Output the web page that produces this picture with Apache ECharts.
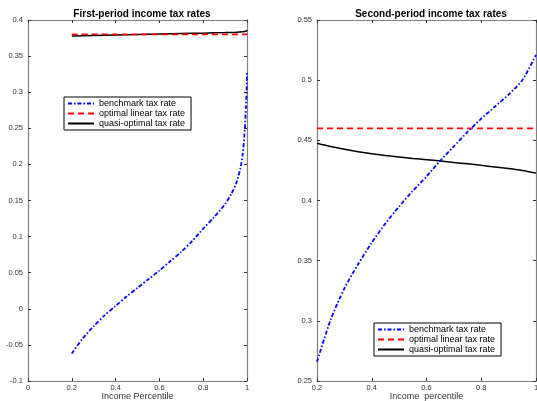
<!DOCTYPE html>
<html>
<head>
<meta charset="utf-8">
<title>Income tax rates</title>
<script src="https://cdn.jsdelivr.net/npm/echarts@6/dist/echarts.min.js"></script>
<style>
  html, body { margin: 0; padding: 0; background: #fff; }
  #chart { width: 537px; height: 401px; }
</style>
</head>
<body>
<div id="chart"></div>
<script>
// Series names
const seriesNames = ['benchmark tax rate', 'optimal linear tax rate', 'quasi-optimal tax rate'];

// First period: benchmark tax rate by income percentile
const p1Bench = [0.2, 0.25, 0.3, 0.35, 0.4, 0.45, 0.5, 0.55, 0.6, 0.65, 0.7, 0.75, 0.8, 0.85, 0.9, 0.93, 0.95, 0.97, 0.98, 0.99, 0.995, 0.998, 1.0];
const bench1  = [-0.062, -0.041, -0.024, -0.009, 0.004, 0.017, 0.029, 0.041, 0.053, 0.066, 0.079, 0.094, 0.111, 0.127, 0.145, 0.160, 0.173, 0.195, 0.213, 0.248, 0.280, 0.300, 0.328];

// First period: optimal linear tax rate
const p1Linear = [0.2, 1.0];
const linear1  = [0.38, 0.38];

// First period: quasi-optimal tax rate
const p1Quasi = [0.2, 0.3, 0.4, 0.5, 0.6, 0.7, 0.8, 0.9, 0.95, 0.98, 0.995, 1.0];
const quasi1  = [0.3778, 0.3785, 0.3792, 0.3798, 0.3805, 0.3812, 0.3818, 0.3826, 0.3831, 0.3837, 0.3845, 0.386];

// Second period: all series share the same percentile grid
const p2 = [0.2, 0.25, 0.3, 0.35, 0.4, 0.45, 0.5, 0.55, 0.6, 0.65, 0.7, 0.75, 0.8, 0.85, 0.9, 0.95, 1.0];
const bench2  = [0.266, 0.301, 0.327, 0.347, 0.365, 0.381, 0.395, 0.408, 0.420, 0.433, 0.445, 0.457, 0.468, 0.478, 0.488, 0.500, 0.521];
const linear2 = [0.46, 0.46, 0.46, 0.46, 0.46, 0.46, 0.46, 0.46, 0.46, 0.46, 0.46, 0.46, 0.46, 0.46, 0.46, 0.46, 0.46];
const quasi2  = [0.4475, 0.4448, 0.4425, 0.4405, 0.4388, 0.4374, 0.4362, 0.4350, 0.4339, 0.4328, 0.4316, 0.4305, 0.4292, 0.4279, 0.4265, 0.4249, 0.4228];

// Panel titles and axis names
const titles = ['First-period income tax rates', 'Second-period income tax rates'];
const xNames = ['Income Percentile', 'Income  percentile'];

// Axis ranges
const x1Range = { min: 0, max: 1, interval: 0.2 };
const y1Range = { min: -0.1, max: 0.4, interval: 0.05 };
const x2Range = { min: 0.2, max: 1, interval: 0.2 };
const y2Range = { min: 0.25, max: 0.55, interval: 0.05 };

const FONT = 'Liberation Sans, Arial, Helvetica, sans-serif';
const AXIS_COLOR = '#808080';

const pairs = (xs, ys) => xs.map((x, i) => [x, ys[i]]);

// Fixed plot boxes; labels are allowed to reach the canvas edge
const grids = [
  { left: 28, top: 20, width: 219, height: 361, outerBoundsMode: 'none', containLabel: false },
  { left: 317, top: 20, width: 219, height: 361, outerBoundsMode: 'none', containLabel: false }
];

function fmt(v) {
  return String(+v.toFixed(4));
}

function xAxisPair(gridIndex, range, name) {
  const common = {
    type: 'value', gridIndex: gridIndex,
    min: range.min, max: range.max, interval: range.interval,
    splitLine: { show: false },
    axisLine: { show: true, onZero: false, lineStyle: { color: AXIS_COLOR, width: 1.2 } },
    axisTick: { show: true, inside: true, length: 3, lineStyle: { color: '#333', width: 1 } }
  };
  return [
    Object.assign({}, common, {
      position: 'bottom',
      name: name, nameLocation: 'middle', nameGap: 11, nameMoveOverlap: false,
      nameTextStyle: { fontFamily: FONT, fontSize: 9, color: '#333' },
      axisLabel: { show: true, margin: 3, fontFamily: FONT, fontSize: 7.5, color: '#333', formatter: fmt }
    }),
    Object.assign({}, common, { position: 'top', axisLabel: { show: false } })
  ];
}

function yAxisPair(gridIndex, range) {
  const common = {
    type: 'value', gridIndex: gridIndex,
    min: range.min, max: range.max, interval: range.interval,
    splitLine: { show: false },
    axisLine: { show: true, onZero: false, lineStyle: { color: AXIS_COLOR, width: 1.2 } },
    axisTick: { show: true, inside: true, length: 3, lineStyle: { color: '#333', width: 1 } }
  };
  return [
    Object.assign({}, common, {
      position: 'left',
      axisLabel: { show: true, margin: 5, fontFamily: FONT, fontSize: 7.5, color: '#333', formatter: fmt }
    }),
    Object.assign({}, common, { position: 'right', axisLabel: { show: false } })
  ];
}

const benchStyle  = { color: '#0000ff', width: 1.8, type: [4, 2, 1.5, 2] };
const linearStyle = { color: '#ff0000', width: 1.7, type: [6, 4] };
const quasiStyle  = { color: '#000000', width: 1.5, type: 'solid' };

function lineSeries(name, data, xi, yi, style, z) {
  return {
    name: name, type: 'line', data: data,
    xAxisIndex: xi, yAxisIndex: yi,
    symbol: 'none', showSymbol: false,
    smooth: 0.25,
    lineStyle: style, itemStyle: { color: style.color },
    z: z, silent: true, animation: false
  };
}

function legendBox(left, top) {
  return {
    data: seriesNames,
    orient: 'vertical',
    left: left, top: top,
    itemWidth: 26, itemHeight: 8, itemGap: 1,
    padding: [2, 6, 2, 3],
    borderColor: '#000', borderWidth: 1,
    backgroundColor: '#fff',
    selectedMode: false,
    itemStyle: { opacity: 0 },
    textStyle: { fontFamily: FONT, fontSize: 9, color: '#000', lineHeight: 9 }
  };
}

const option = {
  backgroundColor: '#fff',
  animation: false,
  title: [
    { text: titles[0], left: 137, top: 4, textAlign: 'center',
      textStyle: { fontFamily: FONT, fontSize: 10, fontWeight: 'bold', color: '#000' } },
    { text: titles[1], left: 426, top: 4, textAlign: 'center',
      textStyle: { fontFamily: FONT, fontSize: 10, fontWeight: 'bold', color: '#000' } }
  ],
  grid: grids,
  xAxis: [].concat(xAxisPair(0, x1Range, xNames[0]), xAxisPair(1, x2Range, xNames[1])),
  yAxis: [].concat(yAxisPair(0, y1Range), yAxisPair(1, y2Range)),
  legend: [legendBox(64, 97), legendBox(374, 323)],
  series: [
    lineSeries(seriesNames[0], pairs(p1Bench, bench1), 0, 0, benchStyle, 3),
    lineSeries(seriesNames[1], pairs(p1Linear, linear1), 0, 0, linearStyle, 2),
    lineSeries(seriesNames[2], pairs(p1Quasi, quasi1), 0, 0, quasiStyle, 1),
    lineSeries(seriesNames[0], pairs(p2, bench2), 2, 2, benchStyle, 3),
    lineSeries(seriesNames[1], pairs(p2, linear2), 2, 2, linearStyle, 2),
    lineSeries(seriesNames[2], pairs(p2, quasi2), 2, 2, quasiStyle, 1)
  ]
};

const chart = echarts.init(document.getElementById('chart'), null, { renderer: 'canvas' });
chart.setOption(option);
</script>
</body>
</html>
